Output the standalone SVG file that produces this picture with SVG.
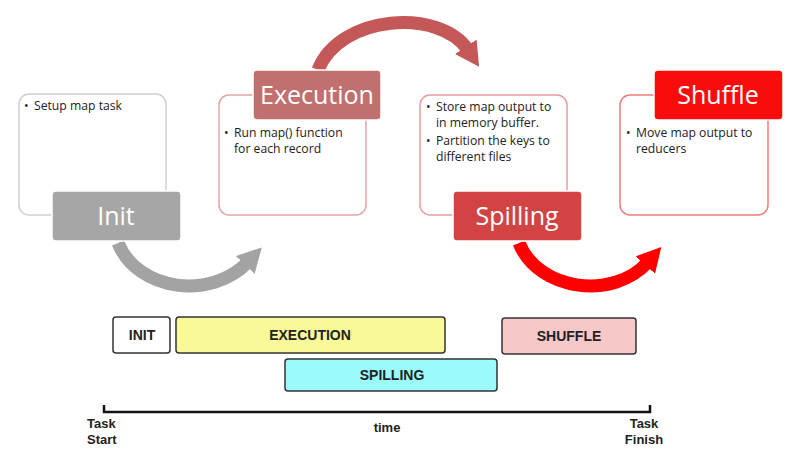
<svg xmlns="http://www.w3.org/2000/svg" width="787" height="462" viewBox="0 0 787 462">
<style>
.body{fill:#fff;stroke-width:1.5}
.lbl{stroke:#fff;stroke-width:1.5}
.big{font-family:"Open Sans","Liberation Sans",sans-serif;font-size:25px;fill:#fff;text-anchor:middle}
.sm{font-family:"Open Sans","Liberation Sans",sans-serif;font-size:12.2px;fill:#222}
.bar{stroke:#333;stroke-width:1.5}
.bt{font-family:"Liberation Sans",Arial,sans-serif;font-weight:bold;font-size:14px;fill:#222;text-anchor:middle}
.tl{font-family:"Liberation Sans",Arial,sans-serif;font-weight:bold;font-size:13px;fill:#222;text-anchor:middle}
.arc{fill:none;stroke-width:13}
</style>
<defs>
<marker id="hg" markerUnits="userSpaceOnUse" markerWidth="30" markerHeight="30" refX="4" refY="13" orient="auto"><path d="M0,0 L24,13 L0,26 z" fill="#a3a3a3"/></marker>
<marker id="hb" markerUnits="userSpaceOnUse" markerWidth="30" markerHeight="30" refX="4" refY="13" orient="auto"><path d="M0,0 L24,13 L0,26 z" fill="#c45858"/></marker>
<marker id="hr" markerUnits="userSpaceOnUse" markerWidth="30" markerHeight="30" refX="4" refY="13" orient="auto"><path d="M0,0 L24,13 L0,26 z" fill="#ff0000"/></marker>
</defs>
<rect width="787" height="462" fill="#fff"/>
<g id="connectors">
<path class="arc" d="M118,243 C138,292 212,300 248,262" stroke="#a3a3a3" marker-end="url(#hg)"/>
<path class="arc" d="M318,70 C340,14 440,8 468,50" stroke="#c45858" marker-end="url(#hb)"/>
<path class="arc" d="M519,243 C539,292 614,300 648,262" stroke="#ff0000" marker-end="url(#hr)"/>
</g>
<g id="init">
<rect class="body" x="19" y="94" width="147" height="121" rx="10" stroke="#cfcfcf"/>
<text class="sm" x="24" y="110">•</text><text class="sm" x="34" y="110">Setup map task</text>
<rect class="lbl" x="52" y="191" width="129" height="50" rx="4" fill="#a6a6a6"/>
<text class="big" x="116" y="225">Init</text>
</g>
<g id="execution">
<rect class="body" x="219" y="95" width="147" height="120" rx="10" stroke="#e4a3a3"/>
<rect class="lbl" x="253" y="70" width="128" height="50" rx="4" fill="#c0706e"/>
<text class="big" x="317" y="104">Execution</text>
<text class="sm" x="224" y="137">•</text><text class="sm" x="234" y="137">Run map() function</text>
<text class="sm" x="234" y="153">for each record</text>
</g>
<g id="spilling">
<rect class="body" x="420" y="95" width="147" height="120" rx="10" stroke="#eb9c9c"/>
<text class="sm" x="426" y="111">•</text><text class="sm" x="436" y="111">Store map output to</text>
<text class="sm" x="436" y="127">in memory buffer.</text>
<text class="sm" x="426" y="145">•</text><text class="sm" x="436" y="145">Partition the keys to</text>
<text class="sm" x="436" y="161">different files</text>
<rect class="lbl" x="453" y="191" width="129" height="50" rx="4" fill="#d24444"/>
<text class="big" x="517" y="225">Spilling</text>
</g>
<g id="shuffle">
<rect class="body" x="620" y="95" width="148" height="120" rx="10" stroke="#f07a7a"/>
<rect class="lbl" x="654" y="70" width="129" height="50" rx="4" fill="#fa0c0c"/>
<text class="big" x="718" y="104">Shuffle</text>
<text class="sm" x="626" y="137">•</text><text class="sm" x="636" y="137">Move map output to</text>
<text class="sm" x="636" y="153">reducers</text>
</g>
<g id="t-init"><rect class="bar" x="113" y="317" width="57" height="36" rx="3" fill="#fff"/><text class="bt" x="142" y="340">INIT</text></g>
<g id="t-execution"><rect class="bar" x="176" y="317" width="269" height="36" rx="3" fill="#f9f99a"/><text class="bt" x="310" y="340">EXECUTION</text></g>
<g id="t-shuffle"><rect class="bar" x="502" y="318" width="134" height="36" rx="3" fill="#f8c8c8"/><text class="bt" x="569" y="341">SHUFFLE</text></g>
<g id="t-spilling"><rect class="bar" x="285" y="359" width="212" height="32" rx="3" fill="#9bfafa"/><text class="bt" x="392" y="380">SPILLING</text></g>
<g id="timeline">
<path d="M104,405 V412 H650 V405" fill="none" stroke="#111" stroke-width="2.5"/>
<text class="tl" x="87" y="428" style="text-anchor:start">Task</text>
<text class="tl" x="87" y="444" style="text-anchor:start">Start</text>
<text class="tl" x="387" y="432">time</text>
<text class="tl" x="644" y="428">Task</text>
<text class="tl" x="644" y="444">Finish</text>
</g>
</svg>
